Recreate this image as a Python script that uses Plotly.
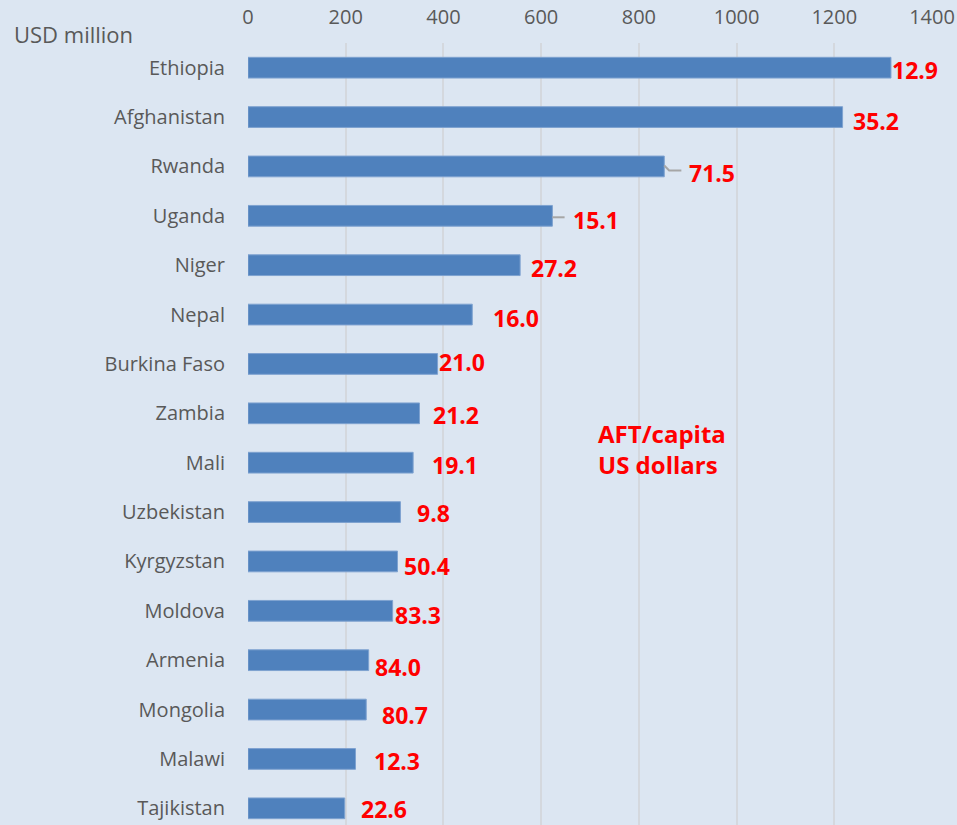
import plotly.graph_objects as go

countries = ["Ethiopia", "Afghanistan", "Rwanda", "Uganda", "Niger", "Nepal",
             "Burkina Faso", "Zambia", "Mali", "Uzbekistan", "Kyrgyzstan",
             "Moldova", "Armenia", "Mongolia", "Malawi", "Tajikistan"]
aft_usd_million = [1316, 1217, 852, 623, 557, 459, 388, 351, 338, 312, 306,
                   296, 247, 242, 220, 198]
aft_per_capita = ["12.9", "35.2", "71.5", "15.1", "27.2", "16.0", "21.0", "21.2",
                  "19.1", "9.8", "50.4", "83.3", "84.0", "80.7", "12.3", "22.6"]
x_ticks = [0, 200, 400, 600, 800, 1000, 1200, 1400]

# label placement offsets (pixels) relative to bar end / bar centre
label_dx = [0, 9, 24, 20, 10, 20, 0, 13, 18, 16, 5, 1, 5, 15, 18, 15]
label_dy = [-2, -4, -7, -4, -3, -3, 2, -2, -2, -1, -5, -4, -7, -5, -2, -1]

fig = go.Figure()
fig.add_trace(go.Bar(
    y=countries, x=aft_usd_million, orientation="h",
    marker=dict(color="#4f81bd", line=dict(color="#7ea2d0", width=1)),
    width=0.42, hoverinfo="x+y", cliponaxis=False,
))

for i, (c, v, t) in enumerate(zip(countries, aft_usd_million, aft_per_capita)):
    fig.add_annotation(x=v, y=c, text=t, showarrow=False, xanchor="left",
                       xshift=label_dx[i], yshift=label_dy[i], borderpad=0,
                       font=dict(family="Open Sans", size=23, color="#ff0000",
                                 weight="bold"))

# leader lines (Rwanda, Uganda)
i = countries.index("Rwanda")
v = aft_usd_million[i]
fig.add_trace(go.Scatter(
    x=[v, v + 10, v + 35], y=[i - 0.02, i + 0.08, i + 0.08],
    mode="lines", line=dict(color="#a6a6a6", width=2),
    hoverinfo="skip", yaxis="y2", showlegend=False))
i = countries.index("Uganda")
v = aft_usd_million[i]
fig.add_trace(go.Scatter(
    x=[v, v + 25], y=[i + 0.03, i + 0.03],
    mode="lines", line=dict(color="#a6a6a6", width=2),
    hoverinfo="skip", yaxis="y2", showlegend=False))

fig.add_annotation(x=712, y=7.72, text="AFT/capita<br>US dollars",
                   showarrow=False, xanchor="left", align="left",
                   font=dict(family="Open Sans", size=24, color="#ff0000",
                             weight="bold"))

fig.add_annotation(xref="paper", yref="paper", x=-0.345, y=1.0, yshift=9,
                   text="USD million", showarrow=False, xanchor="left",
                   yanchor="middle",
                   font=dict(family="Open Sans", size=22, color="#595959"))

rng = [15.5 - 8 / 49.4, -0.5]
fig.update_layout(
    width=957, height=825,
    margin=dict(l=248, r=25, t=43, b=0),
    paper_bgcolor="#dce6f2", plot_bgcolor="#dce6f2",
    showlegend=False, bargap=0.58,
    xaxis=dict(range=[0, 1400], side="top", tickvals=x_ticks,
               showgrid=True, gridcolor="#d4d8de", gridwidth=2,
               zeroline=False, showline=False, ticks="",
               tickfont=dict(family="Open Sans", size=20, color="#595959"),
               ticklabelstandoff=14),
    yaxis=dict(categoryorder="array", categoryarray=countries, range=rng,
               showgrid=False, zeroline=False, showline=False, ticks="",
               tickfont=dict(family="Open Sans", size=20, color="#595959"),
               ticklabelstandoff=22),
    yaxis2=dict(overlaying="y", range=rng, visible=False),
)

fig.write_html("out.html", config={"displayModeBar": False},
               post_script="document.body.style.margin='0';"
                           "document.body.style.background='#dce6f2';")
